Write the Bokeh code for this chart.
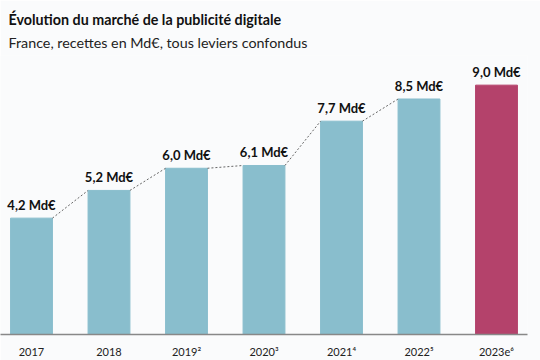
from bokeh.plotting import figure
from bokeh.models import Range1d, FixedTicker, Title, ColumnDataSource
from bokeh.embed import file_html
from bokeh.resources import INLINE

years = ["2017", "2018", "2019²", "2020³", "2021⁴", "2022⁵", "2023e⁶"]
values = [4.2, 5.2, 6.0, 6.1, 7.7, 8.5, 9.0]
labels = ["4,2 Md€", "5,2 Md€", "6,0 Md€", "6,1 Md€", "7,7 Md€", "8,5 Md€", "9,0 Md€"]
colors = ["#89BECD"] * 6 + ["#B4426B"]

xs = list(range(len(years)))
bw = 0.54
FONT = "Lato"
BG = "#fafbfc"

p = figure(width=540, height=360, output_backend="svg", toolbar_location=None,
           x_range=Range1d(-0.4, 6.4), y_range=Range1d(0, 10.07),
           min_border_left=0, min_border_right=13, min_border_bottom=21, min_border_top=55,
           background_fill_color=BG, border_fill_color=BG, outline_line_color=None)

p.add_layout(Title(text="France, recettes en Md€, tous leviers confondus", text_font=FONT,
                   text_font_size="14.3px", text_font_style="normal", text_color="#222222",
                   offset=8, standoff=9), "above")
p.add_layout(Title(text="Évolution du marché de la publicité digitale", text_font=FONT,
                   text_font_size="14.3px", text_font_style="bold", text_color="#111111",
                   offset=8, standoff=0), "above")

src = ColumnDataSource(dict(x=xs, top=values, color=colors, label=labels))
p.vbar(x="x", top="top", width=bw, color="color", source=src)

# dotted connectors: top-right of bar i to top-left of bar i+1
x0 = [xs[i] + bw / 2 for i in range(5)]
x1 = [xs[i + 1] - bw / 2 for i in range(5)]
y0 = [values[i] for i in range(5)]
y1 = [values[i + 1] for i in range(5)]
p.segment(x0=x0, y0=y0, x1=x1, y1=y1, line_color="#666666", line_dash="2 2", line_width=1)

p.text(x="x", y="top", text="label", source=src, text_align="center",
       text_baseline="bottom", y_offset=-5, text_font_size="13px",
       text_font_style="bold", text_color="#111111", text_font={"value": FONT})

p.yaxis.visible = False
p.grid.visible = False
p.xaxis.ticker = FixedTicker(ticks=xs)
p.xaxis.major_label_overrides = {i: y for i, y in enumerate(years)}
p.xaxis.major_tick_line_color = None
p.xaxis.minor_tick_line_color = None
p.xaxis.axis_line_color = "#888888"
p.xaxis.axis_line_width = 1.5
p.xaxis.major_label_standoff = 4
p.xaxis.major_label_text_font = FONT
p.xaxis.major_label_text_font_size = "11px"
p.xaxis.major_label_text_color = "#222222"

open("out.html", "w").write(file_html(p, INLINE))
